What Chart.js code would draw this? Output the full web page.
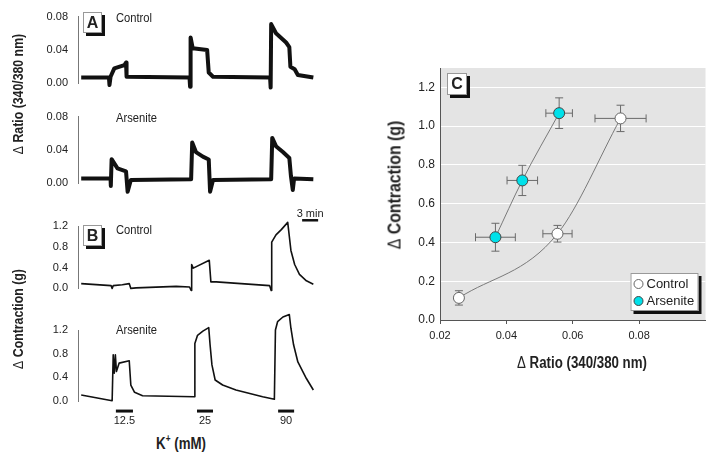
<!DOCTYPE html>
<html>
<head>
<meta charset="utf-8">
<script src="https://cdn.jsdelivr.net/npm/chart.js@4.4.1/dist/chart.umd.min.js"></script>
<style>
  body { margin: 0; background: #fff; }
  #fig { position: relative; width: 712px; height: 455px; overflow: hidden;
         font-family: "Liberation Sans", Arial, sans-serif; color: #222; }
  canvas { position: absolute; }
  .ttl { position: absolute; white-space: nowrap; font-weight: bold; transform: translate(-50%, -50%) scaleX(0.83); }
  .rot { transform: translate(-50%, -50%) rotate(-90deg) scaleX(0.82); }
  .ttl .d { font-weight: normal; }
  .tag { position: absolute; box-sizing: border-box; background: #fff; border: 1px solid #999;
         box-shadow: 3px 3px 0 #111; font: bold 16px "Liberation Sans", Arial, sans-serif;
         text-align: center; }
  .lbl { position: absolute; font-size: 13px; line-height: 16px; transform: scaleX(0.86); transform-origin: left center; }
</style>
</head>
<body>
<div id="fig">
  <canvas id="cA1" width="340" height="100" style="left:0;top:0"></canvas>
  <canvas id="cA2" width="340" height="100" style="left:0;top:100px"></canvas>
  <canvas id="cB1" width="340" height="105" style="left:0;top:200px"></canvas>
  <canvas id="cB2" width="340" height="125" style="left:0;top:305px"></canvas>
  <canvas id="cC" width="332" height="320" style="left:380px;top:50px"></canvas>

  <div class="tag" style="left:83px;top:12px;width:19px;height:21px;line-height:19px">A</div>
  <div class="tag" style="left:83px;top:225px;width:19px;height:21px;line-height:19px">B</div>
  <div class="tag" style="left:447px;top:73px;width:20px;height:22px;line-height:20px">C</div>

  <div class="lbl" style="left:116px;top:10px">Control</div>
  <div class="lbl" style="left:116px;top:110px">Arsenite</div>
  <div class="lbl" style="left:116px;top:222px">Control</div>
  <div class="lbl" style="left:116px;top:322px">Arsenite</div>

  <div class="ttl rot" style="left:17px;top:94px;font-size:15px"><span class="d">&Delta;</span> Ratio (340/380 nm)</div>
  <div class="ttl rot" style="left:17px;top:319px;font-size:15px"><span class="d">&Delta;</span> Contraction (g)</div>
  <div class="ttl" style="left:181px;top:443px;font-size:16px">K<sup style="font-size:10px">+</sup> (mM)</div>
  <div class="ttl rot" style="left:395px;top:185px;font-size:18px;transform:translate(-50%,-50%) rotate(-90deg) scaleX(0.88)"><span class="d">&Delta;</span> Contraction (g)</div>
  <div class="ttl" style="left:582px;top:363px;font-size:16px"><span class="d">&Delta;</span> Ratio (340/380 nm)</div>
</div>

<script>
// ---- panel A: fura-2 ratio traces (time in min) ----
const aCtrlT = [0.6, 5.8, 5.9, 6.1, 6.8, 8.7, 9.0, 9.1, 20.9, 21.0, 21.1, 21.5, 24.2, 24.5, 25.3, 36.0, 36.1, 36.2, 37.1, 39.0, 39.6, 39.8, 40.6, 41.2, 44.1];
const aCtrlV = [0.007, 0.007, -0.002, 0.008, 0.018, 0.022, 0.025, 0.008, 0.007, -0.004, 0.055, 0.042, 0.040, 0.013, 0.008, 0.007, -0.005, 0.071, 0.060, 0.049, 0.0435, 0.020, 0.017, 0.010, 0.007];
const aArsT = [0.6, 6.1, 6.15, 6.3, 7.4, 9.0, 9.3, 9.9, 21.2, 21.4, 22.1, 23.4, 24.5, 24.75, 25.3, 36.2, 36.4, 37.1, 38.4, 39.6, 39.9, 40.25, 40.5, 44.1];
const aArsV = [0.006, 0.006, -0.003, 0.029, 0.018, 0.0145, -0.010, 0.004, 0.005, 0.049, 0.0375, 0.032, 0.0287, -0.010, 0.004, 0.005, 0.0545, 0.0446, 0.0375, 0.0305, 0.009, -0.008, 0.006, 0.005];

// ---- panel B: contraction traces ----
const bCtrlT = [0.6, 6.2, 6.4, 6.6, 8.3, 9.6, 9.9, 10.9, 18.4, 20.9, 21.2, 21.3, 21.6, 24.6, 24.9, 25.9, 35.9, 36.2, 36.3, 37.1, 38.1, 39.3, 39.6, 39.9, 40.6, 41.5, 42.8, 44.1];
const bCtrlV = [0.092, 0.054, 0.0, 0.054, 0.07, 0.092, 0.0, 0.01, 0.038, 0.027, -0.04, 0.46, 0.39, 0.54, 0.125, 0.125, 0.054, -0.04, 0.89, 1.03, 1.13, 1.27, 1.0, 0.73, 0.46, 0.27, 0.146, 0.081];
const bArsT = [0.6, 6.4, 6.6, 6.8, 7.0, 7.2, 7.7, 9.6, 9.9, 10.6, 12.1, 21.8, 21.9, 22.4, 23.4, 24.5, 24.75, 25.1, 25.7, 27.1, 29.6, 34.6, 36.8, 37.0, 37.4, 38.4, 39.6, 39.9, 40.4, 41.2, 42.8, 44.1];
const bArsV = [0.10, 0.005, 0.78, 0.47, 0.78, 0.5, 0.64, 0.68, 0.27, 0.147, 0.09, 0.073, 0.97, 1.11, 1.18, 1.24, 0.95, 0.61, 0.355, 0.27, 0.186, 0.073, 0.03, 1.2, 1.34, 1.42, 1.46, 1.23, 0.95, 0.66, 0.38, 0.186];

// K+ application periods and the 3 min scale bar
const stimStart = [7.1, 22.3, 37.5];
const stimEnd = [10.3, 25.3, 40.5];
const stimLabels = ['12.5', '25', '90'];
const scaleBarStart = 42;
const scaleBarLen = 3;

// ---- panel C: contraction vs ratio ----
const ctrlX = [0.0257, 0.0554, 0.0744];
const ctrlY = [0.114, 0.445, 1.04];
const ctrlXerr = [0, 0.0044, 0.0077];
const ctrlYerr = [0.037, 0.043, 0.068];
const arsX = [0.0367, 0.0448, 0.0559];
const arsY = [0.427, 0.72, 1.067];
const arsXerr = [0.006, 0.0046, 0.004];
const arsYerr = [0.072, 0.078, 0.079];

const T_MAX = 44.6;
const FONT = '"Liberation Sans", Arial, sans-serif';
Chart.defaults.font.family = FONT;
Chart.defaults.color = '#222';

const pts = (xs, ys) => xs.map((x, i) => ({ x: x, y: ys[i] }));

function traceChart(id, t, v, yMax, yStep, dec, lw, pad, extra) {
    const datasets = [{
        data: pts(t, v), borderColor: '#111', borderWidth: lw, pointRadius: 0,
        tension: 0, clip: false, borderJoinStyle: 'round'
    }];
    return new Chart(document.getElementById(id), {
        type: 'line',
        data: { datasets: datasets.concat(extra ? extra.datasets : []) },
        options: {
            responsive: false, animation: false,
            layout: { padding: pad },
            plugins: { legend: { display: false }, tooltip: { enabled: false } },
            scales: {
                x: { type: 'linear', min: 0, max: T_MAX, display: false },
                y: {
                    min: 0, max: yMax,
                    ticks: { stepSize: yStep, padding: 10, font: { size: 11 }, callback: val => val.toFixed(dec) },
                    grid: { display: false, drawTicks: false },
                    border: { display: true, color: '#777', width: 1 },
                    afterFit: s => { s.width = 78; }
                }
            }
        },
        plugins: extra ? extra.plugins : []
    });
}

traceChart('cA1', aCtrlT, aCtrlV, 0.08, 0.04, 2, 4, { top: 12.7, bottom: 12.7, right: 24 });
traceChart('cA2', aArsT, aArsV, 0.08, 0.04, 2, 4, { top: 11, bottom: 13.3, right: 24 });

// 3 min scale bar sits above the control contraction trace
const SCALE_Y = 1.31;
traceChart('cB1', bCtrlT, bCtrlV, 1.2, 0.4, 1, 1.6, { top: 26, bottom: 5, right: 24 }, {
    datasets: [{
        data: [{ x: scaleBarStart, y: SCALE_Y }, { x: scaleBarStart + scaleBarLen, y: SCALE_Y }],
        borderColor: '#111', borderWidth: 2.5, pointRadius: 0, clip: false
    }],
    plugins: [{
        id: 'scaleText',
        afterDatasetsDraw(chart) {
            const { ctx, scales } = chart;
            const cx = scales.x.getPixelForValue(scaleBarStart + scaleBarLen / 2);
            const y = scales.y.getPixelForValue(SCALE_Y);
            ctx.save();
            ctx.font = '11px ' + FONT;
            ctx.fillStyle = '#222';
            ctx.textAlign = 'center';
            ctx.textBaseline = 'alphabetic';
            ctx.fillText('3 min', cx, y - 3);
            ctx.restore();
        }
    }]
});

// stimulus bars below the arsenite contraction trace
const STIM_Y = -0.17;
traceChart('cB2', bArsT, bArsV, 1.2, 0.4, 1, 1.6, { top: 25, bottom: 29, right: 24 }, {
    datasets: stimStart.map((s, i) => ({
        data: [{ x: s, y: STIM_Y }, { x: stimEnd[i], y: STIM_Y }],
        borderColor: '#111', borderWidth: 3, pointRadius: 0, clip: false
    })),
    plugins: [{
        id: 'stimText',
        afterDatasetsDraw(chart) {
            const { ctx, scales } = chart;
            const y = scales.y.getPixelForValue(STIM_Y) + 10;
            ctx.save();
            ctx.font = '11px ' + FONT;
            ctx.fillStyle = '#222';
            ctx.textAlign = 'center';
            ctx.textBaseline = 'middle';
            stimLabels.forEach((lab, i) => {
                ctx.fillText(lab, scales.x.getPixelForValue((stimStart[i] + stimEnd[i]) / 2), y);
            });
            ctx.restore();
        }
    }]
});

// ---- panel C ----
const errs = [[ctrlXerr, ctrlYerr], [arsXerr, arsYerr]];

const plotBg = {
    id: 'plotBg',
    beforeDraw(chart) {
        const a = chart.chartArea;
        chart.ctx.save();
        chart.ctx.fillStyle = '#e4e4e4';
        chart.ctx.fillRect(a.left, a.top, a.right - a.left, a.bottom - a.top);
        chart.ctx.restore();
    }
};

const errorBars = {
    id: 'errorBars',
    beforeDatasetsDraw(chart) {
        const { ctx, scales } = chart;
        ctx.save();
        ctx.strokeStyle = '#6a6a6a';
        ctx.lineWidth = 1;
        chart.data.datasets.forEach((ds, di) => {
            const [xe, ye] = errs[di];
            ds.data.forEach((p, i) => {
                const px = scales.x.getPixelForValue(p.x), py = scales.y.getPixelForValue(p.y);
                ctx.beginPath();
                if (xe[i] > 0) {
                    const x1 = scales.x.getPixelForValue(p.x - xe[i]), x2 = scales.x.getPixelForValue(p.x + xe[i]);
                    ctx.moveTo(x1, py); ctx.lineTo(x2, py);
                    ctx.moveTo(x1, py - 4); ctx.lineTo(x1, py + 4);
                    ctx.moveTo(x2, py - 4); ctx.lineTo(x2, py + 4);
                }
                if (ye[i] > 0) {
                    const y1 = scales.y.getPixelForValue(p.y - ye[i]), y2 = scales.y.getPixelForValue(p.y + ye[i]);
                    ctx.moveTo(px, y1); ctx.lineTo(px, y2);
                    ctx.moveTo(px - 4, y1); ctx.lineTo(px + 4, y1);
                    ctx.moveTo(px - 4, y2); ctx.lineTo(px + 4, y2);
                }
                ctx.stroke();
            });
        });
        ctx.restore();
    }
};

const boxLegend = {
    id: 'boxLegend',
    afterDraw(chart) {
        const { ctx, chartArea } = chart;
        const w = 68, h = 38;
        const x0 = chartArea.right - 7 - w, y0 = chartArea.bottom - 9 - h;
        ctx.save();
        ctx.fillStyle = '#111';
        ctx.fillRect(x0 + 3, y0 + 3, w, h);
        ctx.fillStyle = '#fff';
        ctx.fillRect(x0, y0, w, h);
        ctx.strokeStyle = '#999';
        ctx.lineWidth = 1;
        ctx.strokeRect(x0 + 0.5, y0 + 0.5, w - 1, h - 1);
        ctx.font = '13px ' + FONT;
        ctx.textBaseline = 'middle';
        chart.data.datasets.forEach((ds, i) => {
            const cy = y0 + 11 + i * 17;
            ctx.beginPath();
            ctx.arc(x0 + 8, cy, 4.5, 0, Math.PI * 2);
            ctx.fillStyle = ds.pointBackgroundColor;
            ctx.fill();
            ctx.strokeStyle = ds.pointBorderColor;
            ctx.stroke();
            ctx.fillStyle = '#222';
            ctx.fillText(ds.label, x0 + 16, cy + 0.5);
        });
        ctx.restore();
    }
};

new Chart(document.getElementById('cC'), {
    type: 'scatter',
    data: {
        datasets: [{
            label: 'Control', data: pts(ctrlX, ctrlY), showLine: true, cubicInterpolationMode: 'monotone',
            borderColor: '#7a7a7a', borderWidth: 1, pointRadius: 5.5,
            pointBackgroundColor: '#ffffff', pointBorderColor: '#666666', pointBorderWidth: 1
        }, {
            label: 'Arsenite', data: pts(arsX, arsY), showLine: true, cubicInterpolationMode: 'monotone',
            borderColor: '#7a7a7a', borderWidth: 1, pointRadius: 5.5,
            pointBackgroundColor: '#00e1ea', pointBorderColor: '#444444', pointBorderWidth: 1
        }]
    },
    options: {
        responsive: false, animation: false,
        layout: { padding: { top: 18, right: 4, left: 0, bottom: 0 } },
        plugins: { legend: { display: false }, tooltip: { enabled: false } },
        scales: {
            x: {
                type: 'linear', min: 0.02, max: 0.1,
                afterBuildTicks: s => { s.ticks = s.ticks.filter(t => t.value < 0.099); },
                ticks: { stepSize: 0.02, padding: 5, font: { size: 11 }, callback: v => v.toFixed(2) },
                grid: { drawOnChartArea: false, drawTicks: true, tickLength: 4, color: '#555' },
                border: { display: true, color: '#555', width: 1 },
                afterFit: s => { s.height = 50; }
            },
            y: {
                min: 0, max: 1.3,
                afterBuildTicks: s => { s.ticks = s.ticks.filter(t => t.value < 1.25); },
                ticks: { stepSize: 0.2, padding: 5, font: { size: 12 }, callback: v => v.toFixed(1) },
                grid: { color: '#ffffff', lineWidth: 1, drawTicks: false },
                border: { display: true, color: '#555', width: 1 },
                afterFit: s => { s.width = 60; }
            }
        }
    },
    plugins: [plotBg, errorBars, boxLegend]
});
</script>
</body>
</html>
